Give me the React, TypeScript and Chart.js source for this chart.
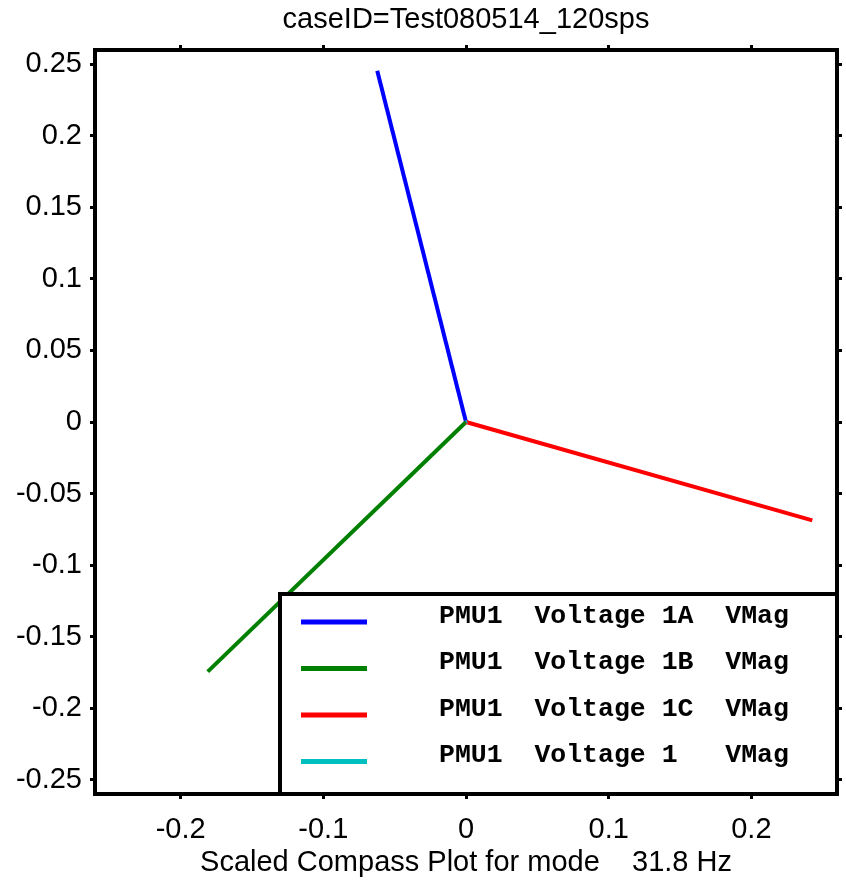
import { useEffect, useRef } from "react";
import { Chart, registerables } from "chart.js";

Chart.register(...registerables);

const TITLE = "caseID=Test080514_120sps";
const X_LABEL = "Scaled Compass Plot for mode    31.8 Hz";

const seriesNames = [
  "PMU1  Voltage 1A  VMag",
  "PMU1  Voltage 1B  VMag",
  "PMU1  Voltage 1C  VMag",
  "PMU1  Voltage 1   VMag",
];
const seriesColors = ["#0000ff", "#008000", "#ff0000", "#00bfbf"];
const tipX = [-0.0622, -0.181, 0.2427, 0.0008];
const tipY = [0.2455, -0.1745, -0.0688, 0.0004];

const xTickValues = [-0.2, -0.1, 0, 0.1, 0.2];
const yTickValues = [0.25, 0.2, 0.15, 0.1, 0.05, 0, -0.05, -0.1, -0.15, -0.2, -0.25];
const AXIS_MIN = -0.26;
const AXIS_MAX = 0.26;

const SANS = "'Liberation Sans', Arial, sans-serif";
const MONO = "'Liberation Mono', 'Courier New', monospace";
const FONT_SIZE = 29;

const compassLegend = {
  id: "compassLegend",
  afterDatasetsDraw(chart: any) {
    const { ctx, chartArea } = chart;
    const left = 280;
    const top = 594;
    const right = chartArea.right;
    const bottom = chartArea.bottom;
    ctx.save();
    ctx.fillStyle = "#ffffff";
    ctx.fillRect(left, top, right - left, bottom - top);
    ctx.lineWidth = 4;
    ctx.strokeStyle = "#000000";
    ctx.strokeRect(left, top, right - left, bottom - top);
    const rowH = 46.5;
    chart.data.datasets.forEach((ds: any, i: number) => {
      const cy = top + 22 + i * rowH;
      ctx.strokeStyle = ds.borderColor;
      ctx.lineWidth = 5;
      ctx.beginPath();
      ctx.moveTo(301, cy + 6);
      ctx.lineTo(367, cy + 6);
      ctx.stroke();
      ctx.fillStyle = "#000000";
      ctx.font = `bold 26.5px ${MONO}`;
      ctx.textBaseline = "middle";
      ctx.textAlign = "left";
      ctx.fillText(ds.label, 439, cy);
    });
    ctx.restore();
  },
};

function axisCommon(values: number[]) {
  return {
    type: "linear" as const,
    min: AXIS_MIN,
    max: AXIS_MAX,
    afterBuildTicks: (s: any) => {
      s.ticks = values.map((v) => ({ value: v }));
    },
    grid: {
      display: true,
      drawOnChartArea: false,
      drawTicks: true,
      tickLength: 5,
      tickWidth: 3,
      tickColor: "#000000",
    },
    border: { display: true, color: "#000000", width: 4 },
  };
}

export default function App() {
  const ref = useRef<HTMLCanvasElement>(null);

  useEffect(() => {
    if (!ref.current) return;
    const datasets = seriesNames.map((name, i) => ({
      label: name,
      data: [
        { x: 0, y: 0 },
        { x: tipX[i], y: tipY[i] },
      ],
      borderColor: seriesColors[i],
      backgroundColor: seriesColors[i],
      borderWidth: 4,
      showLine: true,
      pointRadius: 0,
      fill: false,
      order: seriesNames.length - i,
    }));

    const chart = new Chart(ref.current, {
      type: "scatter",
      data: { datasets },
      options: {
        responsive: false,
        animation: false,
        layout: { padding: 0 },
        plugins: {
          legend: { display: false },
          tooltip: { enabled: false },
          title: { display: false },
        },
        scales: {
          x: {
            ...axisCommon(xTickValues),
            position: "bottom",
            afterFit: (s: any) => {
              s.height = 89;
            },
            ticks: {
              color: "#000000",
              font: { family: SANS, size: FONT_SIZE },
              padding: 14,
              maxRotation: 0,
              autoSkip: false,
              callback: (v: any) => String(v),
            },
            title: {
              display: true,
              text: X_LABEL,
              color: "#000000",
              font: { family: SANS, size: FONT_SIZE },
              padding: { top: 0, bottom: 2.6 },
            },
          },
          y: {
            ...axisCommon(yTickValues),
            position: "left",
            afterFit: (s: any) => {
              s.width = 95;
            },
            ticks: {
              color: "#000000",
              font: { family: SANS, size: FONT_SIZE },
              padding: 8,
              autoSkip: false,
              callback: (v: any) => String(v),
            },
          },
          x2: {
            ...axisCommon(xTickValues),
            position: "top",
            afterFit: (s: any) => {
              s.height = 50;
            },
            ticks: { display: false },
            title: {
              display: true,
              text: TITLE,
              color: "#000000",
              font: { family: SANS, size: FONT_SIZE },
              padding: { top: 2.6, bottom: 0 },
            },
          },
          y2: {
            ...axisCommon(yTickValues),
            position: "right",
            afterFit: (s: any) => {
              s.width = 9;
            },
            ticks: { display: false },
          },
        },
      } as any,
      plugins: [compassLegend],
    });
    return () => chart.destroy();
  }, []);

  return (
    <div style={{ position: "absolute", left: 0, top: 0, width: 846, height: 883, background: "#ffffff" }}>
      <canvas ref={ref} width={846} height={883} style={{ display: "block" }} />
    </div>
  );
}
